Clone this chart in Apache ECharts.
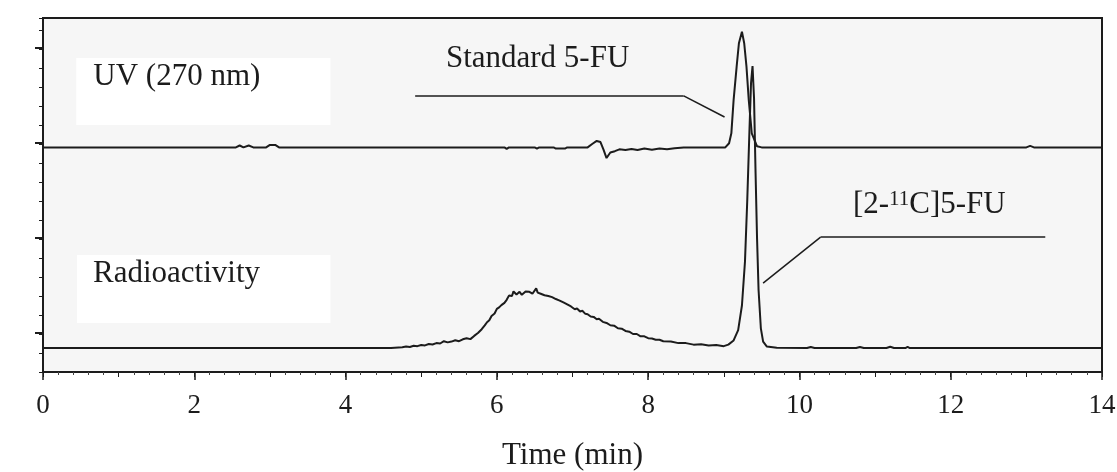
<!DOCTYPE html>
<html><head><meta charset="utf-8">
<script src="https://cdn.jsdelivr.net/npm/echarts@6/dist/echarts.min.js"></script>
<style>html,body{margin:0;padding:0;background:#fff}#c{width:1117px;height:472px}</style>
</head><body><div id="c"></div>
<script>
// UV (270 nm) trace: time (min) and detector signal (a.u.)
const uvTime = [0, 2.55, 2.6, 2.65, 2.72, 2.78, 2.95, 3.0, 3.07, 3.12,
  6.1, 6.13, 6.16, 6.5, 6.53, 6.56, 6.75, 6.78, 6.9, 6.93,
  7.2, 7.26, 7.32, 7.37, 7.41, 7.45, 7.5, 7.56, 7.62, 7.7,
  7.78, 7.86, 7.95, 8.05, 8.15, 8.25, 8.35, 8.47,
  9.02, 9.07, 9.10, 9.13, 9.17, 9.20, 9.24, 9.27, 9.30, 9.33,
  9.37, 9.44, 9.5, 13.0, 13.05, 13.1, 14];
const uvSignal = [9.82, 9.82, 9.92, 9.82, 9.92, 9.82, 9.82, 9.95, 9.95, 9.82,
  9.82, 9.74, 9.82, 9.82, 9.76, 9.82, 9.82, 9.76, 9.76, 9.82,
  9.82, 10.0, 10.16, 10.1, 9.7, 9.26, 9.55, 9.62, 9.72, 9.68,
  9.74, 9.68, 9.76, 9.7, 9.76, 9.72, 9.78, 9.82,
  9.82, 10.04, 10.56, 12.32, 14.07, 15.3, 15.91, 15.3, 14.07, 12.32,
  10.56, 9.88, 9.82, 9.82, 9.9, 9.82, 9.82];

// Radioactivity trace
const radioTime = [0, 4.6, 4.75, 4.8, 4.85, 4.9, 4.95, 5.0, 5.05, 5.1,
  5.15, 5.2, 5.25, 5.3, 5.35, 5.4, 5.45, 5.5, 5.55, 5.6,
  5.65, 5.7, 5.75, 5.8, 5.84, 5.87, 5.9, 5.93, 5.97, 6.0,
  6.03, 6.06, 6.1, 6.13, 6.16, 6.18, 6.2, 6.22, 6.24, 6.26,
  6.28, 6.3, 6.33, 6.35, 6.38, 6.4, 6.43, 6.45, 6.47, 6.49,
  6.52, 6.54, 6.56, 6.58, 6.6, 6.63, 6.65, 6.68, 6.7, 6.73,
  6.75, 6.78, 6.8, 6.83, 6.85, 6.88, 6.9, 6.93, 6.95, 6.98,
  7.0, 7.03, 7.06, 7.1, 7.13, 7.17, 7.2, 7.24, 7.28, 7.32,
  7.35, 7.4, 7.45, 7.5, 7.55, 7.6, 7.65, 7.7, 7.75, 7.8,
  7.85, 7.9, 7.95, 8.0, 8.05, 8.1, 8.15, 8.2, 8.3, 8.4,
  8.5, 8.6, 8.7, 8.8, 8.9, 9.0, 9.06, 9.13, 9.19, 9.24,
  9.28, 9.31, 9.34, 9.36, 9.38, 9.4, 9.42, 9.44, 9.46, 9.49,
  9.52, 9.57, 9.7, 10.1, 10.15, 10.2, 10.75, 10.8, 10.85, 11.15,
  11.2, 11.25, 11.4, 11.43, 11.46, 14];
const radioSignal = [-0.74, -0.74, -0.70, -0.66, -0.68, -0.62, -0.64, -0.58, -0.60, -0.53,
  -0.55, -0.48, -0.50, -0.38, -0.44, -0.40, -0.33, -0.38, -0.28, -0.22,
  -0.27, -0.10, 0.05, 0.25, 0.45, 0.62, 0.72, 0.95, 1.08, 1.32,
  1.40, 1.52, 1.64, 1.80, 2.02, 2.12, 2.00, 2.24, 2.30, 2.08,
  2.18, 2.22, 2.06, 2.16, 2.24, 2.14, 2.22, 2.30, 2.12, 2.22,
  2.40, 2.18, 2.28, 2.12, 2.20, 2.04, 2.10, 2.00, 2.08, 1.94,
  1.98, 1.84, 1.90, 1.76, 1.80, 1.66, 1.70, 1.56, 1.60, 1.45,
  1.40, 1.30, 1.34, 1.18, 1.22, 1.06, 1.04, 0.92, 0.90, 0.78,
  0.80, 0.64, 0.58, 0.46, 0.44, 0.30, 0.28, 0.16, 0.12, 0.00,
  0.00, -0.12, -0.12, -0.22, -0.24, -0.30, -0.30, -0.38, -0.40, -0.48,
  -0.48, -0.56, -0.54, -0.60, -0.58, -0.64, -0.56, -0.34, 0.2, 1.5,
  3.8, 7.0, 10.8, 13.2, 14.1, 12.4, 8.5, 5.0, 2.3, 0.3,
  -0.4, -0.66, -0.72, -0.74, -0.68, -0.74, -0.74, -0.68, -0.74, -0.74,
  -0.67, -0.74, -0.74, -0.68, -0.74, -0.74];

// Texts
const uvLabel = 'UV (270 nm)';
const radioLabel = 'Radioactivity';
const stdLabel = 'Standard 5-FU';
const fuLabel = '[2-{sup|11}C]5-FU';
const xTitle = 'Time (min)';

// Annotation anchors in data coordinates (time, signal)
const uvBox = [0.44, 14.53, 3.80, 11.0];
const radioBox = [0.45, 4.16, 3.80, 0.58];
const stdCallout = [[4.92, 12.53], [8.47, 12.53], [9.01, 11.42]];
const fuCallout = [[13.25, 5.1], [10.28, 5.1], [9.52, 2.68]];
const stdLabelAt = [5.32, 14.47];
const fuLabelAt = [10.70, 6.79];

const FONT = '"Liberation Serif","Times New Roman",serif';
const INK = '#1c1c1c';
function pairs(t, v) { return t.map((x, i) => [x, v[i]]); }
function polyline(pts) {
  const out = [];
  for (let i = 1; i < pts.length; i++) out.push([{ coord: pts[i - 1] }, { coord: pts[i] }]);
  return out;
}
const textStyle = { fontFamily: FONT, fontSize: 31, color: INK };

const chart = echarts.init(document.getElementById('c'), null, { renderer: 'canvas' });
chart.setOption({
  animation: false,
  backgroundColor: '#ffffff',
  grid: [
    { left: 43, right: 15, top: 18, bottom: 100, show: true, backgroundColor: '#f6f6f6',
      borderColor: INK, borderWidth: 2, containLabel: false, outerBoundsMode: 'none' },
    { left: 43, right: 15, top: 48, bottom: 139, show: false, containLabel: false, outerBoundsMode: 'none' }
  ],
  xAxis: [
    { gridIndex: 0, type: 'value', min: 0, max: 14, interval: 1, position: 'bottom',
      axisLine: { show: true, onZero: false, lineStyle: { color: INK, width: 2 } },
      axisTick: { show: true, length: 5, lineStyle: { color: INK, width: 1 } },
      minorTick: { show: true, splitNumber: 5, length: 3, lineStyle: { color: '#444', width: 1 } },
      axisLabel: { show: false }, splitLine: { show: false }, minorSplitLine: { show: false },
      name: xTitle, nameLocation: 'middle', nameGap: 68,
      nameTextStyle: { fontFamily: FONT, fontSize: 31, color: INK } },
    { gridIndex: 0, type: 'value', min: 0, max: 14, interval: 2, position: 'bottom', offset: 0,
      axisLine: { show: false, onZero: false },
      axisTick: { show: true, length: 8, lineStyle: { color: INK, width: 1.5 } },
      axisLabel: { show: true, margin: 20, fontFamily: FONT, fontSize: 27, color: INK },
      splitLine: { show: false } },
    { gridIndex: 1, type: 'value', min: 0, max: 14, show: false }
  ],
  yAxis: [
    { gridIndex: 0, type: 'value', min: -2, max: 16.63, interval: 1,
      axisLine: { show: true, onZero: false, lineStyle: { color: INK, width: 2 } },
      axisTick: { show: true, length: 4, lineStyle: { color: INK, width: 1 } },
      axisLabel: { show: false }, splitLine: { show: false } },
    { gridIndex: 1, type: 'value', min: 0, max: 15, interval: 5,
      axisLine: { show: false },
      axisTick: { show: true, length: 8, lineStyle: { color: INK, width: 2 } },
      axisLabel: { show: false }, splitLine: { show: false } }
  ],
  series: [
    { name: 'UV', type: 'line', xAxisIndex: 0, yAxisIndex: 0,
      data: pairs(uvTime, uvSignal), showSymbol: false, symbol: 'none', sampling: null,
      lineStyle: { color: INK, width: 2 }, z: 3,
      markArea: { silent: true, itemStyle: { color: '#ffffff' },
        label: Object.assign({ show: true, position: [17, 3] }, textStyle),
        data: [[{ name: uvLabel, coord: [uvBox[0], uvBox[1]] }, { coord: [uvBox[2], uvBox[3]] }]] },
      markLine: { silent: true, symbol: ['none', 'none'], label: { show: false },
        lineStyle: { color: INK, width: 1.5, type: 'solid' }, emphasis: { disabled: true },
        data: polyline(stdCallout) },
      markPoint: { silent: true, symbol: 'rect', symbolSize: 1, itemStyle: { color: 'rgba(0,0,0,0)' },
        label: Object.assign({ show: true, position: 'right', distance: 0, formatter: stdLabel }, textStyle),
        data: [{ coord: stdLabelAt }] } },
    { name: 'Radioactivity', type: 'line', xAxisIndex: 0, yAxisIndex: 0,
      data: pairs(radioTime, radioSignal), showSymbol: false, symbol: 'none', sampling: null,
      lineStyle: { color: INK, width: 2 }, z: 3,
      markArea: { silent: true, itemStyle: { color: '#ffffff' },
        label: Object.assign({ show: true, position: [16, 3] }, textStyle),
        data: [[{ name: radioLabel, coord: [radioBox[0], radioBox[1]] }, { coord: [radioBox[2], radioBox[3]] }]] },
      markLine: { silent: true, symbol: ['none', 'none'], label: { show: false },
        lineStyle: { color: INK, width: 1.5, type: 'solid' }, emphasis: { disabled: true },
        data: polyline(fuCallout) },
      markPoint: { silent: true, symbol: 'rect', symbolSize: 1, itemStyle: { color: 'rgba(0,0,0,0)' },
        label: Object.assign({ show: true, position: 'right', distance: 0, formatter: fuLabel,
          rich: { sup: { fontFamily: FONT, fontSize: 21, color: INK, verticalAlign: 'top' } } }, textStyle),
        data: [{ coord: fuLabelAt }] } }
  ]
});
</script>
</body></html>
